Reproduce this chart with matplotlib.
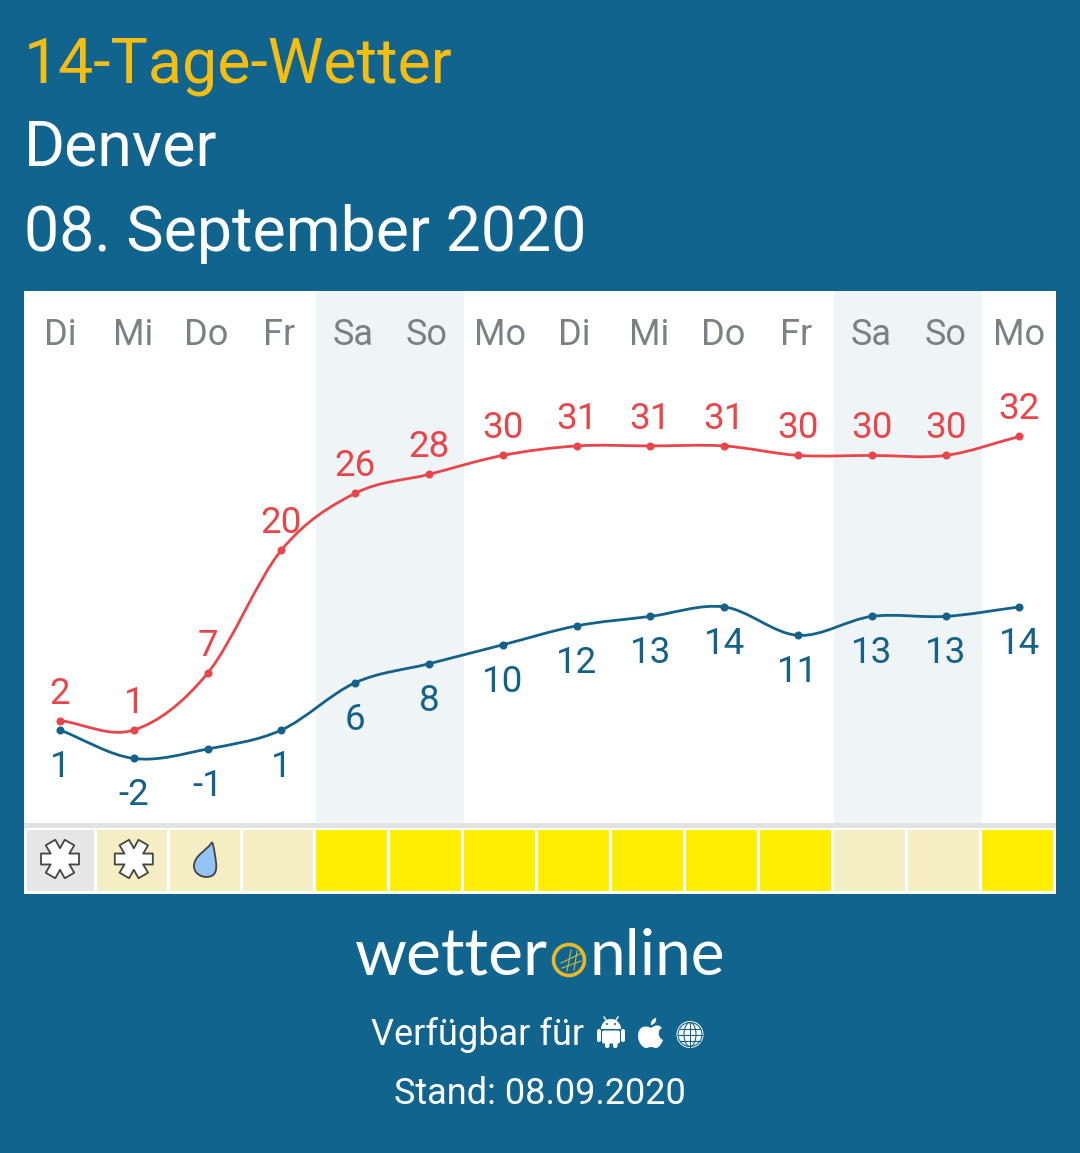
import numpy as np
import matplotlib
matplotlib.use("Agg")
import matplotlib.pyplot as plt
from matplotlib.path import Path
from matplotlib.patches import PathPatch, Circle, Rectangle, Ellipse, FancyBboxPatch, Wedge

days = ["Di", "Mi", "Do", "Fr", "Sa", "So", "Mo", "Di", "Mi", "Do", "Fr", "Sa", "So", "Mo"]
t_max = [2, 1, 7, 20, 26, 28, 30, 31, 31, 31, 30, 30, 30, 32]
t_min = [1, -2, -1, 1, 6, 8, 10, 12, 13, 14, 11, 13, 13, 14]
weekend_spans = [(3.47, 5.47), (10.49, 12.49)]
# sunshine class per day: 0 grey, 1 pale, 2 yellow
sun_class = [0, 1, 1, 1, 2, 2, 2, 2, 2, 2, 2, 1, 1, 2]
weather_icon = ["snow", "snow", "rain", "", "", "", "", "", "", "", "", "", "", ""]
title_lines = ["14-Tage-Wetter", "Denver", "08. September 2020"]

BG = "#10648e"; RED = "#e8464b"; BLUE = "#14628a"; GREY = "#7b8084"
YEL = "#f5bd10"; BAND = "#eff4f7"
W, H = 1080, 1153
plt.rcParams["font.family"] = ["Roboto", "DejaVu Sans"]
fig = plt.figure(figsize=(W/100, H/100), dpi=100, facecolor=BG)

def axpx(x0, y0, x1, y1, **kw):
    return fig.add_axes([x0/W, 1-y1/H, (x1-x0)/W, (y1-y0)/H], **kw)

# page overlay in pixel coordinates
pg = axpx(0, 0, W, H, zorder=0)
pg.set_xlim(0, W); pg.set_ylim(H, 0); pg.axis("off")
pg.add_patch(Rectangle((24, 291), 1032, 603, fc="white", ec="none"))
for y, c, s, x0 in zip([82, 166, 251], [YEL, "white", "white"], title_lines, [24, 24, 24.5]):
    pg.text(x0, y, s, color=c, fontsize=45.1, va="baseline", ha="left")
pg.text(477.5, 1035, "Verfügbar für", color="white", fontsize=26, ha="center", va="center")
pg.text(539.5, 1094, "Stand: 08.09.2020", color="white", fontsize=26, ha="center", va="center")

# logo
pg.text(355, 975, "wetter", color="white", fontsize=47.7, family="Lato", ha="left", va="baseline")
pg.text(589, 975, "nline", color="white", fontsize=46, family="Lato", ha="left", va="baseline")
pg.add_patch(Circle((569, 960), 15.5, fc="none", ec="#e6b92a", lw=2.6))
for a, b, c, d in [(561, 963, 582, 953), (562, 968, 581, 961), (571, 950, 567, 971), (577, 951, 574, 970)]:
    pg.plot([a, c], [b, d], color="#c9b64a", lw=0.8)

# android icon
pg.add_patch(Wedge((611, 1029), 10, 180, 360, fc="white", ec="none"))
pg.add_patch(FancyBboxPatch((602, 1030.5), 18, 13, boxstyle="round,pad=0,rounding_size=2", fc="white", ec="none"))
for x0 in (597, 621):
    pg.add_patch(FancyBboxPatch((x0, 1029), 4, 13, boxstyle="round,pad=0,rounding_size=2", fc="white", ec="none"))
for x0 in (605, 613):
    pg.add_patch(FancyBboxPatch((x0, 1040), 4.5, 8, boxstyle="round,pad=0,rounding_size=2", fc="white", ec="none"))
pg.plot([606, 604], [1020, 1017], color="white", lw=1); pg.plot([616, 618], [1020, 1017], color="white", lw=1)
pg.add_patch(Circle((607, 1024), 1, fc=BG, ec="none")); pg.add_patch(Circle((615, 1024), 1, fc=BG, ec="none"))

# apple icon
apple = Path([(651, 1028), (646, 1025), (638, 1026), (638, 1036), (638, 1043), (643, 1048), (646, 1048),
              (648, 1048), (649, 1047), (651, 1047), (653, 1047), (654, 1048), (656, 1048),
              (659, 1048), (662, 1043), (663, 1040), (658, 1038), (657, 1030), (662, 1028),
              (659, 1024), (655, 1025), (651, 1028), (651, 1028)],
             [1, 4, 4, 4, 4, 4, 4, 4, 4, 4, 4, 4, 4, 4, 4, 4, 4, 4, 4, 4, 4, 4, 79])
pg.add_patch(PathPatch(apple, fc="white", ec="none"))
leaf = Path([(651, 1025), (650, 1021), (654, 1018), (656, 1018), (657, 1021), (654, 1025), (651, 1025)], [1, 4, 4, 4, 4, 4, 4])
pg.add_patch(PathPatch(leaf, fc="white", ec="none"))

# globe icon
gx, gy, gr = 690, 1034.5, 13.5
pg.add_patch(Circle((gx, gy), gr, fc="white", ec="none"))
pg.add_patch(Ellipse((gx, gy), 2*gr-3, 2*gr-3, fc="none", ec=BG, lw=0.8))
pg.add_patch(Ellipse((gx, gy), 12, 2*gr-3, fc="none", ec=BG, lw=0.8))
pg.plot([gx, gx], [gy-12, gy+12], color=BG, lw=0.8)
for dy, hw in [(0, 12), (-6, 10.4), (6, 10.4)]:
    pg.plot([gx-hw, gx+hw], [gy+dy, gy+dy], color=BG, lw=0.8)

# chart
px_per_day = 73.8
x_first = 60.0
px_per_deg = 9.47
y_zero = 739.5
ax = axpx(24, 291, 1056, 823, zorder=2)
ax.set_xlim((24-x_first)/px_per_day, (1056-x_first)/px_per_day)
ax.set_ylim((y_zero-823)/px_per_deg, (y_zero-291)/px_per_deg)
ax.axis("off")
for a, b in weekend_spans:
    ax.axvspan(a, b, color=BAND, lw=0, zorder=0)

def smooth_path(xs, ys):
    xs = np.asarray(xs, float); ys = np.asarray(ys, float)
    n = len(xs)
    m = np.zeros(n)
    m[1:-1] = (ys[2:] - ys[:-2]) / (xs[2:] - xs[:-2])
    m[0] = ys[1] - ys[0]; m[-1] = ys[-1] - ys[-2]
    verts = [(xs[0], ys[0])]; codes = [Path.MOVETO]
    for i in range(n-1):
        d = xs[i+1] - xs[i]
        verts += [(xs[i]+d/3, ys[i]+m[i]*d/3), (xs[i+1]-d/3, ys[i+1]-m[i+1]*d/3), (xs[i+1], ys[i+1])]
        codes += [Path.CURVE4]*3
    return Path(verts, codes)

xi = np.arange(len(days))
for vals, col, off in [(t_max, RED, 27), (t_min, BLUE, -37)]:
    ax.add_patch(PathPatch(smooth_path(xi, vals), fc="none", ec=col, lw=2.0, zorder=3))
    ax.plot(xi, vals, "o", color=col, ms=5.8, mew=0, zorder=4)
    for x, v in zip(xi, vals):
        ax.annotate(str(v), (x, v), xytext=(0, off*0.72), textcoords="offset points",
                    ha="center", va="center", color=col, fontsize=26.5, zorder=5)
header_nudge_px = [0, -1, -1.5, -2.5, -2, -2.5, -2.5, -2, -1.5, -1.5, -1.5, -1, 0, 0]
for x, d, dx in zip(xi, days, header_nudge_px):
    ax.annotate(d, (x, (y_zero-335)/px_per_deg), xytext=(dx*0.72, 0), textcoords="offset points",
                color=GREY, fontsize=26, ha="center", va="center", zorder=5)

# weather strip, pixel x scale
st = axpx(24, 823, 1056, 894, zorder=2)
st.set_xlim(24, 1056)
st.set_ylim(894, 823); st.axis("off")
st.axhspan(823, 828, color="#e2e2e2", lw=0)
cls_col = {0: "#e6e6e6", 1: "#f5edc3", 2: "#ffee00"}
for i, c in enumerate(sun_class):
    if i >= 4:
        left, wid = 316 + 74*(i-4), 71
    else:
        left, wid = 316 - 73*(4-i), 70
    if i == 0:
        left, wid = 27, 67
    st.add_patch(Rectangle((left, 829.5), wid, 61.5, fc=cls_col[c], ec="none"))

pg2 = axpx(0, 0, W, H, zorder=3)
pg2.set_xlim(0, W); pg2.set_ylim(H, 0); pg2.axis("off"); pg2.patch.set_alpha(0)

def snow_icon(cx, cy, R=19, w=11):
    pts = []
    for k in range(6):
        a = np.deg2rad(60*k)
        u = np.array([np.cos(a), np.sin(a)]); n = np.array([-u[1], u[0]])
        pts += [u*R - n*w/2, u*R + n*w/2]
        b = a + np.pi/6
        pts.append(np.array([np.cos(b), np.sin(b)])*w*0.98)
    pts = np.array(pts) + [cx, cy]
    pg2.add_patch(plt.Polygon(pts, closed=True, fc="white", ec="#444444", lw=1.3, joinstyle="round"))

def rain_icon():
    p = Path([(212, 842), (208, 850), (194, 855), (194, 866), (194, 874), (202, 877), (206, 877),
              (216, 877), (217, 870), (216, 862), (215, 855), (214, 846), (212, 842)],
             [1, 4, 4, 4, 4, 4, 4, 4, 4, 4, 4, 4, 4])
    pg2.add_patch(PathPatch(p, fc="#94c4f3", ec="#444444", lw=1.3))

for i, ic in enumerate(weather_icon):
    cx = x_first + i*px_per_day
    if ic == "snow":
        snow_icon(cx, 859)
    elif ic == "rain":
        rain_icon()

fig.savefig("out.png", dpi=100, facecolor=BG)
